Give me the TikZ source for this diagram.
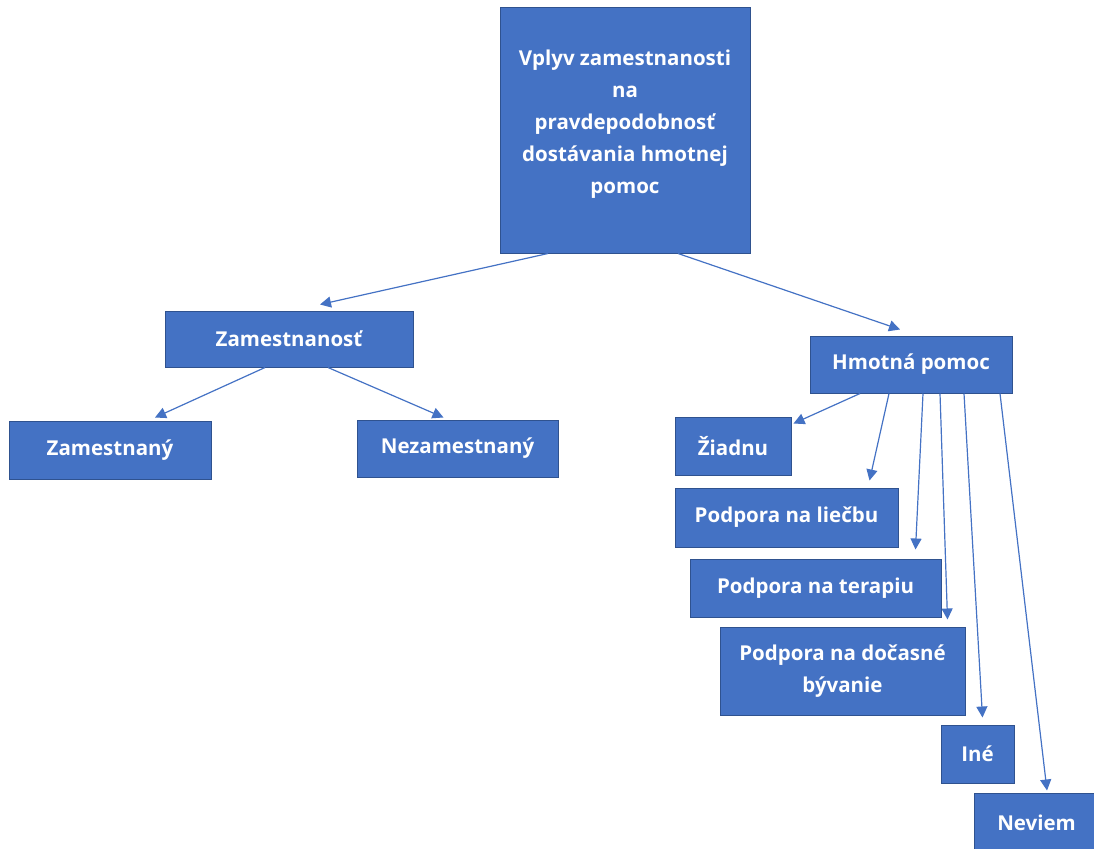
\documentclass[tikz,border=0pt]{standalone}
\usepackage{fontspec}
\setmainfont{Open Sans}
\usetikzlibrary{arrows.meta}
\definecolor{boxblue}{HTML}{4472C4}
\definecolor{boxline}{HTML}{2F528F}

\begin{document}
\begin{tikzpicture}[x=1pt,y=-1pt,
  box/.style={draw=boxline,fill=boxblue,text=white,line width=1pt,
    font=\bfseries\fontsize{20.5}{32}\selectfont,align=center,inner sep=0pt},
  link/.style={draw=boxblue,line width=1.2pt,-{Triangle[width=11pt,length=11pt]}}]

\useasboundingbox (0,0) rectangle (1094,848);

% top of the tree
\node[box,minimum width=250,minimum height=245] (top) at (625,130.5)
  {Vplyv zamestnanosti\\na\\pravdepodobnosť\\dostávania hmotnej\\pomoc\\[-14pt]};

% left branch
\node[box,minimum width=248,minimum height=56] (zam) at (289,339) {Zamestnanosť};
\node[box,minimum width=202,minimum height=58] (zy) at (110,450) {Zamestnaný};
\node[box,minimum width=201,minimum height=57] (nz) at (457.5,448.5) {Nezamestnaný};

% right branch
\node[box,minimum width=202,minimum height=57] (hm) at (911,364.5) {Hmotná pomoc};
\node[box,minimum width=116,minimum height=58] (zi) at (733,446) {Žiadnu};
\node[box,minimum width=223,minimum height=59] (li) at (786.5,517.5) {Podpora na liečbu};
\node[box,minimum width=251,minimum height=58] (te) at (815.5,588) {Podpora na terapiu};
\node[box,minimum width=245,minimum height=88] (do) at (842.5,671) {Podpora na dočasné\\bývanie};
\node[box,minimum width=73,minimum height=58] (in) at (977.5,754) {Iné};
\node[box,minimum width=125,minimum height=60] (ne) at (1036.5,823) {Neviem};

\draw[link] ([xshift=-77]top.south) -- ([xshift=31,yshift=6]zam.north);
\draw[link] ([xshift=53]top.south) -- ([xshift=-11,yshift=6]hm.north);

\draw[link] ([xshift=-24]zam.south) -- ([xshift=45,yshift=3]zy.north);
\draw[link] ([xshift=39]zam.south) -- ([xshift=-14,yshift=2]nz.north);

\draw[link] ([xshift=-51]hm.south) -- ([xshift=2,yshift=-7]zi.north east);
\draw[link] ([xshift=-22]hm.south) -- ([xshift=83,yshift=7]li.north);
\draw[link] ([xshift=12]hm.south) -- ([xshift=100,yshift=9]te.north);
\draw[link] ([xshift=29]hm.south) -- ([xshift=105,yshift=7]do.north);
\draw[link] ([xshift=53]hm.south) -- ([xshift=5,yshift=7]in.north);
\draw[link] ([xshift=89]hm.south) -- ([xshift=10.5,yshift=2]ne.north);

\end{tikzpicture}
\end{document}
